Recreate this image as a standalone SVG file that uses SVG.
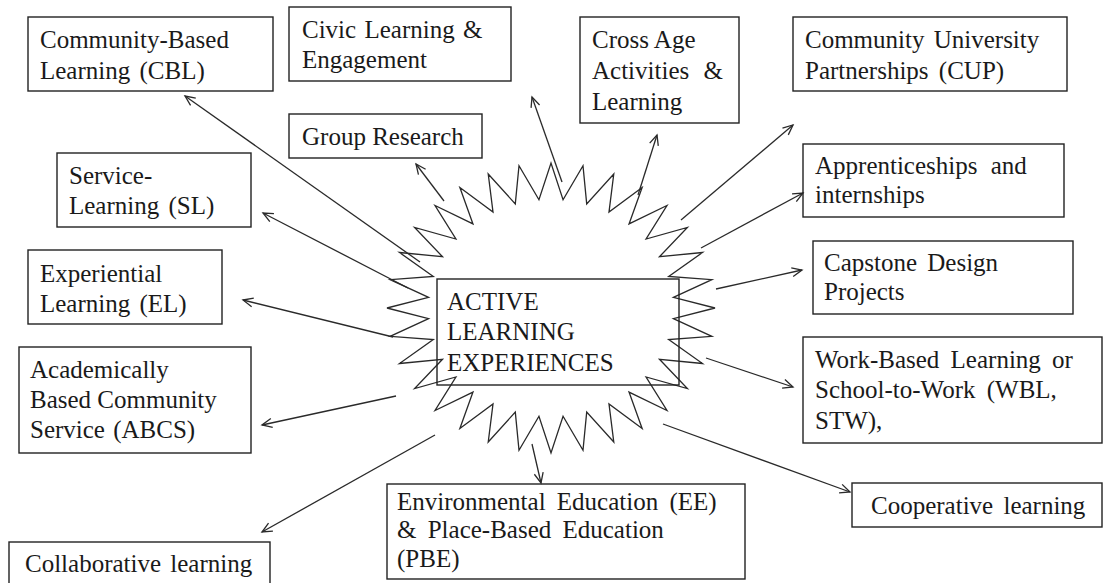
<svg xmlns="http://www.w3.org/2000/svg" width="1104" height="583" viewBox="0 0 1104 583">
  <style>
    .box { fill: none; stroke: #222; stroke-width: 1.4; }
    .lbl { font-family: "Liberation Serif", "Times New Roman", serif; font-size: 25px; fill: #1a1a1a; }
    .conn { fill: none; stroke: #2a2a2a; stroke-width: 1.3; }
    .star { fill: none; stroke: #2a2a2a; stroke-width: 1.3; }
  </style>
  <defs>
    <marker id="arrow" markerUnits="userSpaceOnUse" markerWidth="14" markerHeight="12" viewBox="-12 -6 14 12" refX="0" refY="0" orient="auto">
      <path d="M-10,-4.5 L0,0 L-10,4.5" fill="none" stroke="#2a2a2a" stroke-width="1.3"/>
    </marker>
  </defs>
  <rect width="1104" height="583" fill="#ffffff"/>

  <!-- central starburst: 32-point star, scaled to an ellipse -->
  <g id="starburst">
    <polygon class="star" vector-effect="non-scaling-stroke" transform="translate(551,308) scale(1.64,1.45)"
      points="100,0 74.64,-7.35 98.08,-19.51 71.77,-21.77 92.39,-38.27 66.14,-35.36 83.15,-55.56 57.98,-47.58 70.71,-70.71 47.58,-57.98 55.56,-83.15 35.36,-66.14 38.27,-92.39 21.77,-71.77 19.51,-98.08 7.35,-74.64 0,-100
      -7.35,-74.64 -19.51,-98.08 -21.77,-71.77 -38.27,-92.39 -35.36,-66.14 -55.56,-83.15 -47.58,-57.98 -70.71,-70.71 -57.98,-47.58 -83.15,-55.56 -66.14,-35.36 -92.39,-38.27 -71.77,-21.77 -98.08,-19.51 -74.64,-7.35 -100,0
      -74.64,7.35 -98.08,19.51 -71.77,21.77 -92.39,38.27 -66.14,35.36 -83.15,55.56 -57.98,47.58 -70.71,70.71 -47.58,57.98 -55.56,83.15 -35.36,66.14 -38.27,92.39 -21.77,71.77 -19.51,98.08 -7.35,74.64 0,100
      7.35,74.64 19.51,98.08 21.77,71.77 38.27,92.39 35.36,66.14 55.56,83.15 47.58,57.98 70.71,70.71 57.98,47.58 83.15,55.56 66.14,35.36 92.39,38.27 71.77,21.77 98.08,19.51 74.64,7.35"/>
  </g>

  <!-- central node -->
  <g id="active-learning">
    <rect class="box" x="437" y="279" width="242" height="106"/>
    <text class="lbl" x="447" y="310">ACTIVE</text>
    <text class="lbl" x="447" y="340">LEARNING</text>
    <text class="lbl" x="447" y="371">EXPERIENCES</text>
  </g>

  <!-- connectors from the centre outwards -->
  <g id="connectors">
    <line class="conn" marker-end="url(#arrow)" x1="420" y1="262" x2="185" y2="96"/>
    <line class="conn" marker-end="url(#arrow)" x1="408" y1="288" x2="263" y2="213"/>
    <line class="conn" marker-end="url(#arrow)" x1="444" y1="201" x2="416" y2="164"/>
    <line class="conn" marker-end="url(#arrow)" x1="562" y1="182" x2="532" y2="97"/>
    <line class="conn" marker-end="url(#arrow)" x1="638" y1="195" x2="657" y2="135"/>
    <line class="conn" marker-end="url(#arrow)" x1="681" y1="220" x2="793" y2="125"/>
    <line class="conn" marker-end="url(#arrow)" x1="701" y1="248" x2="803" y2="193"/>
    <line class="conn" marker-end="url(#arrow)" x1="716" y1="289" x2="802" y2="270"/>
    <line class="conn" marker-end="url(#arrow)" x1="706" y1="358" x2="793" y2="387"/>
    <line class="conn" marker-end="url(#arrow)" x1="663" y1="424" x2="850" y2="492"/>
    <line class="conn" marker-end="url(#arrow)" x1="532" y1="444" x2="541" y2="483"/>
    <line class="conn" marker-end="url(#arrow)" x1="435" y1="435" x2="262" y2="532"/>
    <line class="conn" marker-end="url(#arrow)" x1="396" y1="396" x2="262" y2="425"/>
    <line class="conn" marker-end="url(#arrow)" x1="393" y1="337" x2="243" y2="300"/>
  </g>

  <g id="cbl">
    <rect class="box" x="28" y="17" width="245" height="74"/>
    <text class="lbl" x="40" y="48">Community-Based</text>
    <text class="lbl" x="40" y="79" word-spacing="3">Learning (CBL)</text>
  </g>

  <g id="civic">
    <rect class="box" x="289" y="7" width="222" height="74"/>
    <text class="lbl" x="302" y="38" word-spacing="2">Civic Learning &amp;</text>
    <text class="lbl" x="302" y="68">Engagement</text>
  </g>

  <g id="group-research">
    <rect class="box" x="289" y="114" width="193" height="44"/>
    <text class="lbl" x="302" y="145">Group Research</text>
  </g>

  <g id="service-learning">
    <rect class="box" x="57" y="153" width="194" height="74"/>
    <text class="lbl" x="69" y="184">Service-</text>
    <text class="lbl" x="69" y="214" word-spacing="3">Learning (SL)</text>
  </g>

  <g id="experiential">
    <rect class="box" x="28" y="250" width="194" height="74"/>
    <text class="lbl" x="40" y="282">Experiential</text>
    <text class="lbl" x="40" y="312" word-spacing="3">Learning (EL)</text>
  </g>

  <g id="abcs">
    <rect class="box" x="19" y="347" width="232" height="106"/>
    <text class="lbl" x="30" y="378">Academically</text>
    <text class="lbl" x="30" y="408">Based Community</text>
    <text class="lbl" x="30" y="438" word-spacing="2">Service (ABCS)</text>
  </g>

  <g id="collaborative">
    <rect class="box" x="9" y="542" width="261" height="50"/>
    <text class="lbl" x="25" y="572" word-spacing="3">Collaborative learning</text>
  </g>

  <g id="environmental">
    <rect class="box" x="387" y="484" width="358" height="95"/>
    <text class="lbl" x="397" y="510" word-spacing="5">Environmental Education (EE)</text>
    <text class="lbl" x="397" y="538" word-spacing="5">&amp; Place-Based Education</text>
    <text class="lbl" x="397" y="567">(PBE)</text>
  </g>

  <g id="cross-age">
    <rect class="box" x="580" y="17" width="159" height="106"/>
    <text class="lbl" x="592" y="48">Cross Age</text>
    <text class="lbl" x="592" y="79" word-spacing="8">Activities &amp;</text>
    <text class="lbl" x="592" y="110">Learning</text>
  </g>

  <g id="cup">
    <rect class="box" x="793" y="17" width="274" height="74"/>
    <text class="lbl" x="805" y="48" word-spacing="3">Community University</text>
    <text class="lbl" x="805" y="79" word-spacing="4">Partnerships (CUP)</text>
  </g>

  <g id="apprenticeships">
    <rect class="box" x="803" y="144" width="261" height="73"/>
    <text class="lbl" x="815" y="174" word-spacing="7">Apprenticeships and</text>
    <text class="lbl" x="815" y="203">internships</text>
  </g>

  <g id="capstone">
    <rect class="box" x="813" y="241" width="260" height="73"/>
    <text class="lbl" x="824" y="271" word-spacing="4">Capstone Design</text>
    <text class="lbl" x="824" y="300">Projects</text>
  </g>

  <g id="work-based">
    <rect class="box" x="803" y="337" width="299" height="106"/>
    <text class="lbl" x="815" y="368" word-spacing="5">Work-Based Learning or</text>
    <text class="lbl" x="815" y="398" word-spacing="5">School-to-Work (WBL,</text>
    <text class="lbl" x="815" y="429">STW),</text>
  </g>

  <g id="cooperative">
    <rect class="box" x="852" y="483" width="250" height="44"/>
    <text class="lbl" x="871" y="514" word-spacing="4">Cooperative learning</text>
  </g>
</svg>
